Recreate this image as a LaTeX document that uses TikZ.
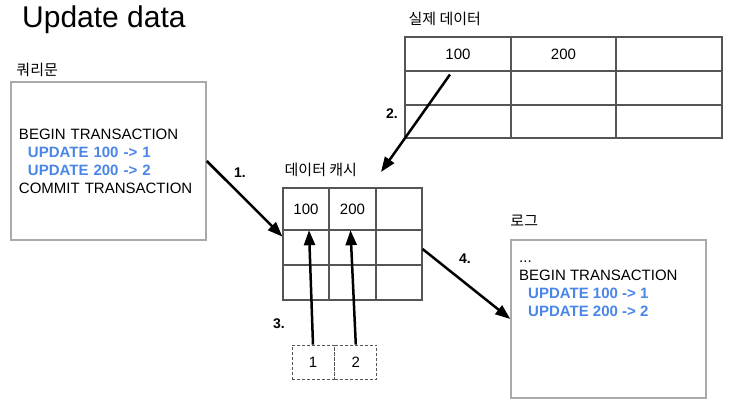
\documentclass[tikz,border=0pt]{standalone}
\usepackage{fontspec}
\setmainfont{Liberation Sans}
\newfontfamily\krfont{Noto Sans CJK KR}
\usepackage{tikz}
\usetikzlibrary{arrows.meta}
\usetikzlibrary{positioning}
\usepackage{xcolor}
\definecolor{updblue}{RGB}{74,134,232}
\definecolor{boxgray}{RGB}{170,170,170}
\definecolor{gridgray}{RGB}{85,85,85}
\tikzset{%
  txtbox/.style={draw=boxgray,line width=1.5pt,minimum width=195pt,minimum height=158pt,inner sep=0pt},
  tbl/.style={draw=gridgray,line width=1.1pt,inner sep=0pt},
  gridline/.style={gridgray,line width=1.1pt},
  lbl/.style={inner sep=0pt,font=\krfont\fontsize{15}{18}\selectfont},
  celltxt/.style={inner sep=0pt,font=\fontsize{15}{18}\selectfont},
  steplbl/.style={inner sep=0pt,font=\bfseries\fontsize{14}{16}\selectfont},
  flow/.style={line width=2.5pt,-{Triangle[length=15pt,width=11pt]}},
  slot/.style={draw=gridgray,dashed,dash pattern=on 3pt off 2pt,line width=0.8pt,minimum width=42pt,minimum height=34pt,inner sep=0pt,font=\fontsize{15}{18}\selectfont}
}
\newcommand{\upd}[1]{\hspace*{9pt}{\color{updblue}\bfseries #1}}

\begin{document}
\begin{tikzpicture}[x=1pt,y=-1pt]
  \useasboundingbox (0,0) rectangle (740,417);
  \node[anchor=base west,inner sep=0pt,font=\fontsize{30}{34}\selectfont] (title) at (22,28) {Update data};

  % query
  \node[txtbox,text width=179pt,align=left,font=\fontsize{15}{18}\selectfont] (query) at (108.5,161)
    {BEGIN TRANSACTION\\ \upd{UPDATE 100 -> 1}\\ \upd{UPDATE 200 -> 2}\\ COMMIT TRANSACTION};
  \node[lbl,above right=4pt and 6pt of query.north west] (querylbl) {쿼리문};

  % real data
  \node[tbl,minimum width=317pt,minimum height=101pt] (data) at (563.5,87.5) {};
  \draw[gridline] (511,37) -- (511,138) (616,37) -- (616,138) (405,71) -- (722,71) (405,105) -- (722,105);
  \node[celltxt] (d1) at (458,54) {100};
  \node[celltxt] (d2) at (563.5,54) {200};
  \node[lbl,above right=11pt and 4pt of data.north west] (datalbl) {실제 데이터};

  % cache
  \node[tbl,minimum width=139pt,minimum height=112pt] (cache) at (352.5,244) {};
  \draw[gridline] (329,188) -- (329,300) (376,188) -- (376,300) (283,230) -- (422,230) (283,265) -- (422,265);
  \node[celltxt,minimum width=46pt,minimum height=42pt] (c1) at (306,209) {100};
  \node[celltxt,minimum width=46pt,minimum height=42pt] (c2) at (352.5,209) {200};
  \node[lbl,above right=11pt and 2pt of cache.north west] (cachelbl) {데이터 캐시};
  \coordinate (cachein) at (381,172);

  % new values
  \node[slot] (v1) at (313,362) {1};
  \node[slot,right=0pt of v1] (v2) {2};

  % log
  \node[txtbox] (log) at (608.5,319) {};
  \node[lbl,above right=13pt and 0pt of log.north west] (loglbl) {로그};
  \node[anchor=north west,inner sep=0pt,align=left,font=\fontsize{15}{18}\selectfont] (logtxt) at (519,261)
    {...\\ BEGIN TRANSACTION\\ \upd{UPDATE 100 -> 1}\\ \upd{UPDATE 200 -> 2}};

  \draw[flow] (query.east) -- (cache.174);
  \node[steplbl] (s1) at (240,173) {1.};
  \draw[flow] ([xshift=-8pt,yshift=-15pt]d1.south) -- (cachein);
  \node[steplbl] (s2) at (392,114) {2.};
  \draw[flow] (v1.north) -- ([xshift=3pt]c1.south);
  \draw[flow] (v2.north) -- ([xshift=-2pt]c2.south);
  \node[steplbl] (s3) at (279,324) {3.};
  \draw[flow] ([yshift=-5pt]cache.east) -- (log.west);
  \node[steplbl] (s4) at (465,259) {4.};
\end{tikzpicture}
\end{document}
